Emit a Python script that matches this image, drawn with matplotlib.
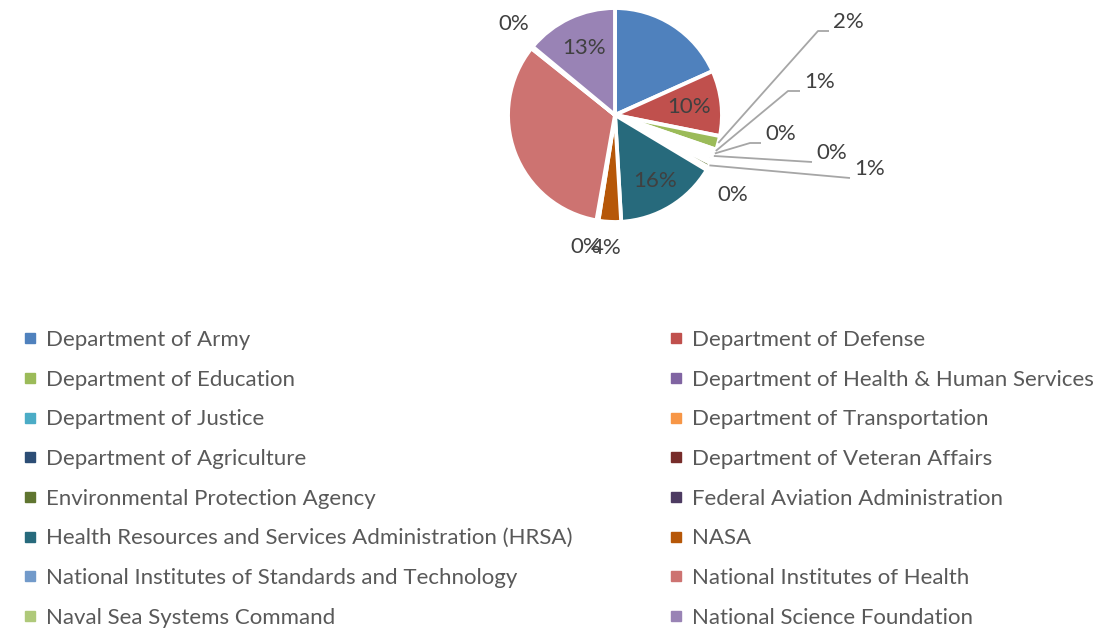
import matplotlib.pyplot as plt
import numpy as np
from matplotlib.lines import Line2D

# agencies in legend order (row-major, two columns)
agencies = [
    "Department of Army",
    "Department of Defense",
    "Department of Education",
    "Department of Health & Human Services",
    "Department of Justice",
    "Department of Transportation",
    "Department of Agriculture",
    "Department of Veteran Affairs",
    "Environmental Protection Agency",
    "Federal Aviation Administration",
    "Health Resources and Services Administration (HRSA)",
    "NASA",
    "National Institutes of Standards and Technology",
    "National Institutes of Health",
    "Naval Sea Systems Command",
    "National Science Foundation",
]
shares = [18.3, 9.9, 2.1, 0.4, 0.4, 0.4, 0.6, 0.4, 0.7, 0.45, 15.5, 3.4, 0.3, 33.0, 0.3, 14.0]
pct_labels = ["", "10%", "2%", "1%", "0%", "0%", "", "", "1%", "0%", "16%", "4%", "0%", "", "0%", "13%"]
colors = [
    "#4F81BD", "#C0504D", "#9BBB59", "#8064A2", "#4BACC6", "#F79646",
    "#2C4D75", "#772C2A", "#5F7530", "#4D3B62", "#276A7C", "#B65708",
    "#729ACA", "#CD7371", "#AFC97A", "#9983B5",
]

plt.rcParams["font.family"] = ["Lato", "DejaVu Sans"]

W, H = 1117, 630
fig = plt.figure(figsize=(W / 100, H / 100), dpi=100)
fig.patch.set_facecolor("white")
ax = fig.add_axes([0, 0, 1, 1])

cx, cy, r = 615, H - 115, 107
wedges, _ = ax.pie(
    shares,
    colors=colors,
    startangle=90,
    counterclock=False,
    center=(cx, cy),
    radius=r,
    wedgeprops=dict(edgecolor="white", linewidth=2.8),
)
ax.set_xlim(0, W)
ax.set_ylim(0, H)
ax.set_aspect("equal")
ax.axis("off")

txt_col = "#404040"
line_col = "#A6A6A6"

# inside labels
inside = {1: 0.7, 10: 0.72, 15: 0.69}
# outside labels with leader lines: index -> (elbow x, elbow y, end x) in pixels from top
leaders = {
    2: (818, 31, 829),
    3: (788, 91, 800),
    4: (750, 143, 761),
    5: (812, 162, 812),
    8: (850, 178, 850),
}
# plain outside labels: index -> (x, y) text centre
plain = {9: (733, 195), 11: (606, 248), 12: (586, 247), 14: (514, 24)}

for i, w in enumerate(wedges):
    lab = pct_labels[i]
    if not lab:
        continue
    mid = np.deg2rad((w.theta1 + w.theta2) / 2)
    if i in inside:
        f = inside[i]
        ax.text(cx + f * r * np.cos(mid), cy + f * r * np.sin(mid), lab,
                ha="center", va="center", fontsize=16, color=txt_col)
    elif i in leaders:
        ex, ey, endx = leaders[i]
        sx, sy = cx + 1.0 * r * np.cos(mid), cy + 1.0 * r * np.sin(mid)
        ax.plot([sx, ex, endx], [sy, H - ey, H - ey], color=line_col, lw=1.3,
                solid_capstyle="butt")
        ax.text(endx + 4, H - ey + 9, lab, ha="left", va="center",
                fontsize=16, color=txt_col)
    elif i in plain:
        px, py = plain[i]
        ax.text(px, H - py, lab, ha="center", va="center", fontsize=16,
                color=txt_col)

handles = [
    Line2D([], [], marker="s", linestyle="none", markersize=7,
           markerfacecolor=c, markeredgecolor=c)
    for c in colors
]
common = dict(
    frameon=False,
    fontsize=16,
    handlelength=0.55,
    handletextpad=0.45,
    labelspacing=0.885,
    borderpad=0,
    borderaxespad=0,
    labelcolor="#595959",
    loc="upper left",
)
fig.legend(handles[0::2], agencies[0::2],
           bbox_to_anchor=(24 / W, 1 - 330 / H), **common)
fig.legend(handles[1::2], agencies[1::2],
           bbox_to_anchor=(670 / W, 1 - 330 / H), **common)

fig.savefig("out.png", dpi=100, facecolor="white")
